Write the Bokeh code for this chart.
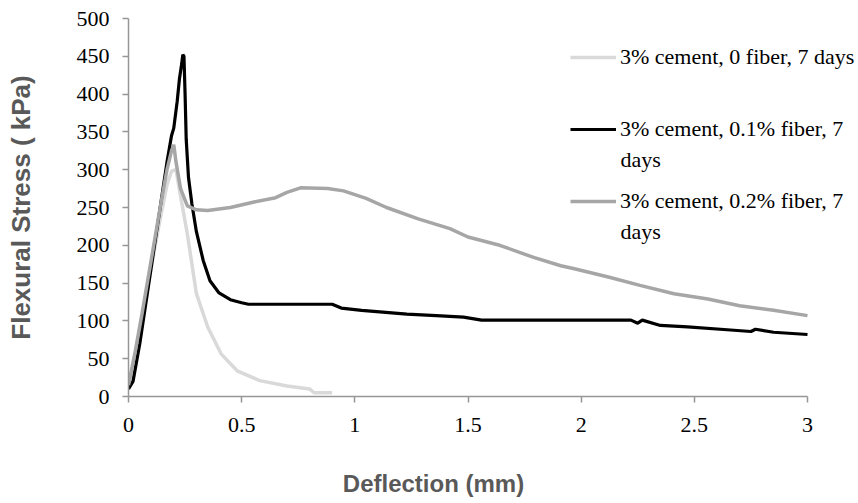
from bokeh.plotting import figure
from bokeh.models import Legend, LegendItem, Label, FixedTicker, Range1d
from bokeh.core.properties import value
from bokeh.embed import file_html
from bokeh.resources import INLINE

# ---- data ----
x_fiber0 = [0, 0.03, 0.06, 0.10, 0.14, 0.17, 0.19, 0.21, 0.23, 0.26, 0.30, 0.35, 0.41, 0.48, 0.58, 0.70, 0.80, 0.82, 0.90]
y_fiber0 = [12, 55, 105, 170, 235, 280, 298, 300, 265, 215, 136, 92, 56, 34, 21, 14, 10, 5, 5]

x_fiber01 = [0, 0.02, 0.05, 0.08, 0.11, 0.14, 0.17, 0.19, 0.20, 0.215, 0.225, 0.235, 0.24, 0.245, 0.25, 0.255,
             0.265, 0.28, 0.30, 0.33, 0.36, 0.40, 0.45, 0.50, 0.53, 0.90, 0.94, 1.03, 1.23, 1.36, 1.48, 1.56,
             1.90, 2.22, 2.25, 2.27, 2.35, 2.47, 2.66, 2.75, 2.77, 2.85, 3.0]
y_fiber01 = [10, 20, 70, 130, 190, 250, 310, 345, 355, 390, 420, 440, 452, 450, 400, 340,
             290, 255, 218, 180, 153, 137, 128, 124, 122, 122, 117, 114, 109, 107, 105, 101,
             101, 101, 97, 101, 94, 92, 88, 86, 89, 85, 82]

x_fiber02 = [0, 0.03, 0.06, 0.10, 0.14, 0.17, 0.19, 0.20, 0.21, 0.23, 0.26, 0.30, 0.35, 0.45, 0.55, 0.65, 0.70,
             0.76, 0.88, 0.95, 1.05, 1.14, 1.28, 1.42, 1.50, 1.64, 1.79, 1.91, 1.97, 2.12, 2.26, 2.41, 2.56,
             2.70, 2.85, 3.0]
y_fiber02 = [15, 60, 110, 180, 250, 300, 325, 333, 310, 275, 252, 247, 246, 250, 257, 263, 270,
             276, 275, 272, 262, 250, 235, 222, 211, 200, 184, 173, 169, 158, 147, 136, 129,
             120, 114, 107]

legend_labels = ["3% cement, 0 fiber, 7 days",
                 "3% cement, 0.1% fiber, 7 days",
                 "3% cement, 0.2% fiber, 7 days"]
wrap_label = [False, True, True]

x_ticks = [0, 0.5, 1, 1.5, 2, 2.5, 3]
x_tick_labels = ["0", "0.5", "1", "1.5", "2", "2.5", "3"]
y_ticks = [0, 50, 100, 150, 200, 250, 300, 350, 400, 450, 500]
y_tick_labels = ["0", "50", "100", "150", "200", "250", "300", "350", "400", "450", "500"]

x_title = "Deflection (mm)"
y_title = "Flexural Stress ( kPa)"

# ---- layout constants (pixels) ----
W, H = 858, 503
LEFT, RIGHT_AT_3, TOP, BOTTOM = 128, 807, 18, 396
x_max = x_ticks[-1]
# the frame runs to the right edge so the legend text is not cut; x=3 still falls at pixel 807
x_view_end = x_max * (W - LEFT) / (RIGHT_AT_3 - LEFT)
# the x title is centred on the frame; pad it with no-break spaces so that it sits left of centre
X_TITLE_PAD = "\u00a0" * 18

SERIF = "Liberation Serif"

# ---- figure ----
p = figure(width=W, height=H, x_range=Range1d(0, x_view_end), y_range=Range1d(0, 500),
           output_backend="svg", toolbar_location=None,
           min_border_left=LEFT, min_border_right=0, min_border_top=TOP, min_border_bottom=H - BOTTOM)
p.outline_line_color = None
p.grid.visible = False
p.background_fill_color = "white"
p.border_fill_color = "white"

axis_gray = "#969696"
for ax in (p.xaxis[0], p.yaxis[0]):
    ax.axis_line_color = axis_gray
    ax.axis_line_width = 1.5
    ax.major_tick_line_color = axis_gray
    ax.major_tick_line_width = 1.5
    ax.major_tick_out = 6
    ax.major_tick_in = 0
    ax.minor_tick_line_color = None
    ax.major_label_text_color = "black"
    ax.major_label_text_font = SERIF
    ax.major_label_text_font_size = "22px"
    ax.axis_label_text_font = "Liberation Sans"
    ax.axis_label_text_font_style = "bold"
    ax.axis_label_text_color = "#595959"

p.xaxis[0].bounds = (0, x_max)
p.xaxis[0].major_label_standoff = 15
p.yaxis[0].major_label_standoff = 13
p.xaxis[0].ticker = FixedTicker(ticks=x_ticks)
p.xaxis[0].major_label_overrides = {t: l for t, l in zip(x_ticks, x_tick_labels)}
p.yaxis[0].ticker = FixedTicker(ticks=y_ticks)
p.yaxis[0].major_label_overrides = {t: l for t, l in zip(y_ticks, y_tick_labels)}
p.xaxis[0].axis_label = x_title + X_TITLE_PAD
p.yaxis[0].axis_label = y_title
p.xaxis[0].axis_label_text_font_size = "24px"
p.yaxis[0].axis_label_text_font_size = "26px"
p.xaxis[0].axis_label_standoff = 35
p.yaxis[0].axis_label_standoff = 38

r0 = p.line(x_fiber0, y_fiber0, line_color="#d9d9d9", line_width=3.5)
r1 = p.line(x_fiber01, y_fiber01, line_color="#000000", line_width=3.2)
r2 = p.line(x_fiber02, y_fiber02, line_color="#a6a6a6", line_width=3.5)
renderers = [r0, r1, r2]

first_lines = [lab.rsplit(" ", 1)[0] if w else lab for lab, w in zip(legend_labels, wrap_label)]
items = [LegendItem(label=value(t), renderers=[r]) for t, r in zip(first_lines, renderers)]
legend = Legend(items=items, location=(442, 182), orientation="vertical",
                glyph_width=46, glyph_height=26, label_height=26, label_standoff=4,
                spacing=46, padding=0, margin=0, border_line_color=None,
                background_fill_alpha=0,
                label_text_font=SERIF, label_text_font_size="22px",
                label_text_color="black")
p.add_layout(legend)

# continuation lines of the wrapped legend labels
cont_y = [0, 237, 165]
for lab, w, yy in zip(legend_labels, wrap_label, cont_y):
    if w:
        p.add_layout(Label(x=492, y=yy, x_units="screen", y_units="screen",
                           text=lab.rsplit(" ", 1)[1], text_baseline="middle",
                           text_font=SERIF, text_font_size="22px",
                           text_color="black"))

open("out.html", "w").write(file_html(p, INLINE))
